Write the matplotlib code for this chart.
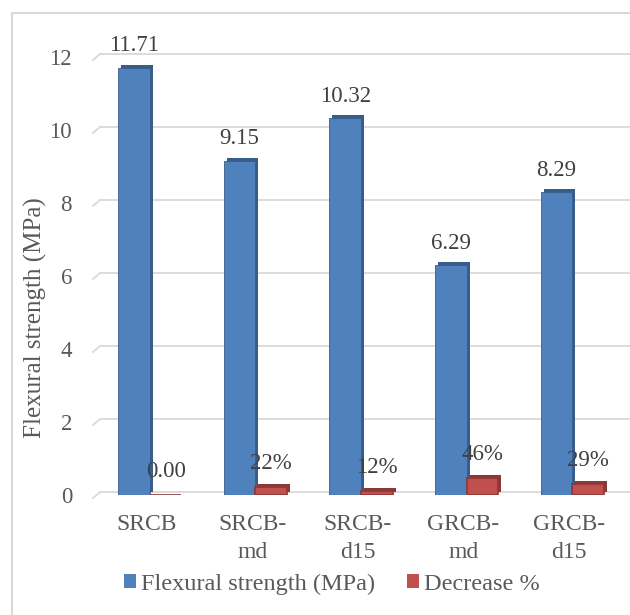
import matplotlib
matplotlib.use("Agg")
import matplotlib.pyplot as plt
import matplotlib.transforms as mtransforms
from matplotlib.patches import Patch, Rectangle

plt.rcParams['font.family'] = ['Liberation Serif', 'DejaVu Serif']

# data
categories = ["SRCB", "SRCB-\nmd", "SRCB-\nd15", "GRCB-\nmd", "GRCB-\nd15"]
strength = [11.71, 9.15, 10.32, 6.29, 8.29]
decrease = [0.00, 0.22, 0.12, 0.46, 0.29]
decrease_labels = ["0.00", "22%", "12%", "46%", "29%"]
yticks = [0, 2, 4, 6, 8, 10, 12]

blue, blue_dark = "#4F81BD", "#385D8A"
red, red_dark = "#C0504D", "#8C3836"
grey_text = "#595959"

fig = plt.figure(figsize=(6.3, 6.15), dpi=100)
ax = fig.add_axes([97 / 630, 1 - 495 / 615, 528 / 630, 438 / 615])

x = list(range(len(categories)))
w = 0.30
xb = [i - w / 2 for i in x]
xr = [i + w / 2 for i in x]

# 3D-ish extrusion behind the bars
depth = mtransforms.offset_copy(ax.transData, fig=fig, x=3, y=3, units='dots')
ax.bar(xb, strength, w, color=blue_dark, transform=depth, zorder=2)
ax.bar(xr, decrease, w, color=red_dark, transform=depth, zorder=2)
ax.bar(xb, strength, w, color=blue, edgecolor=blue_dark, linewidth=0.6, zorder=3)
ax.bar(xr, decrease, w, color=red, edgecolor=red_dark, linewidth=1.2, zorder=3)

for xi, v in zip(xb, strength):
    ax.annotate(f"{v:.2f}", (xi, v), xytext=(0, 16), textcoords='offset points',
                ha='center', va='center', fontsize=16.5, color="#404040",
                annotation_clip=False)
for xi, v, lab in zip(xr, decrease, decrease_labels):
    ax.annotate(lab, (xi, v), xytext=(0, 17), textcoords='offset points',
                ha='center', va='center', fontsize=16.5, color="#404040",
                annotation_clip=False)

ax.set_xlim(-0.5, len(categories) - 0.5)
ax.set_ylim(0, 12)

# back-wall gridlines with a small perspective tail on the left
back = mtransforms.offset_copy(ax.transData, fig=fig, x=3, y=3, units='dots')
for t in yticks:
    ax.plot([-0.5, len(categories) - 0.5 + 0.1], [t, t], color="#D9D9D9", lw=1.3,
            transform=back, clip_on=False, zorder=1)
    ax.plot([-0.5 - 4 / 105.5, -0.5 + 3 / 105.5], [t - 3 / 36.5, t + 3 / 36.5],
            color="#D9D9D9", lw=1.3, clip_on=False, zorder=1)

for s in ax.spines.values():
    s.set_visible(False)
ax.set_yticks(yticks)
ax.set_xticks([i - 0.03 for i in x])
ax.set_xticklabels(categories, linespacing=1.4)
ax.tick_params(axis='y', length=0, pad=18, labelsize=16.5, labelcolor=grey_text)
ax.tick_params(axis='x', length=0, pad=14, labelsize=17, labelcolor=grey_text)

fig.text(35 / 630, 1 - 318 / 615, "Flexural strength (MPa)", rotation=90,
         ha='center', va='center', fontsize=18, color=grey_text)

handles = [Patch(facecolor=blue, label="Flexural strength (MPa)"),
           Patch(facecolor=red, label="Decrease %")]
fig.legend(handles=handles, loc='center', bbox_to_anchor=(332 / 630, 1 - 584 / 615),
           ncol=2, frameon=False, fontsize=17.5, handlelength=0.5, handleheight=0.5,
           handletextpad=0.2, columnspacing=1.3, labelcolor=grey_text,
           borderpad=0)

# outer chart border (only left and top visible in the reference)
fig.patches.append(Rectangle((12 / 630, -0.05), 1.0, 1 - 13 / 615 + 0.05,
                             transform=fig.transFigure, fill=False,
                             edgecolor="#D9D9D9", lw=1.5))

fig.savefig("out.png", dpi=100)
